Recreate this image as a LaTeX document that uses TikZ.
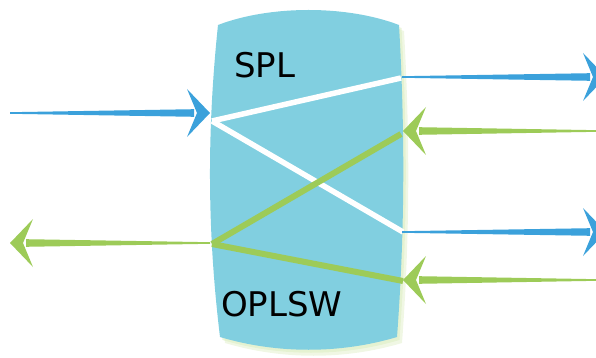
\documentclass[tikz,border=0pt]{standalone}
\usepackage{fontspec}
\setmainfont{DejaVu Sans}
\definecolor{blockfill}{RGB}{129,207,224}
\definecolor{arrblue}{RGB}{59,161,219}
\definecolor{arrgreen}{RGB}{157,203,88}
\definecolor{glow}{RGB}{222,238,196}
\tikzset{
  pics/harrow/.style 2 args={code={
    \fill[#1] (-#2,-0.8) -- (-16,-3.8) -- (-16,3.8) -- (-#2,0.8) -- cycle;
    \fill[#1] (0,0) -- (-23,24) -- (-13,0) -- (-23,-24) -- cycle;
  }},
  whiteline/.style={draw=white,line width=5.5pt,line cap=butt},
  greenline/.style={draw=arrgreen,line width=6pt,line cap=butt},
  lbl/.style={anchor=base west,inner sep=0pt,font=\fontsize{34}{40}\selectfont}
}
\begin{document}
\begin{tikzpicture}[x=1pt,y=-1pt]
\useasboundingbox (0,0) rectangle (596,358);
\clip (0,0) rectangle (596,358);
% soft glow behind block
\begin{scope}[shift={(5,6)}]
\fill[glow,opacity=0.45] (218,25) .. controls (270,5) and (347,5) .. (399,25)
  .. controls (405,130) and (405,230) .. (397,337)
  .. controls (340,354) and (277,354) .. (220,337)
  .. controls (207,230) and (207,130) .. (218,25) -- cycle;
\end{scope}
\begin{scope}[shift={(2.5,3)}]
\fill[glow,opacity=0.6] (218,25) .. controls (270,5) and (347,5) .. (399,25)
  .. controls (405,130) and (405,230) .. (397,337)
  .. controls (340,354) and (277,354) .. (220,337)
  .. controls (207,230) and (207,130) .. (218,25) -- cycle;
\end{scope}
% block
\fill[blockfill] (218,25) .. controls (270,5) and (347,5) .. (399,25)
  .. controls (405,130) and (405,230) .. (397,337)
  .. controls (340,354) and (277,354) .. (220,337)
  .. controls (207,230) and (207,130) .. (218,25) -- cycle;
% ports
\coordinate (inL) at (212,121);
\coordinate (outL) at (212,244);
\coordinate (outR1) at (401,78);
\coordinate (inR1) at (401,134);
\coordinate (outR2) at (403,232);
\coordinate (inR2) at (403,281);
% internal paths
\draw[whiteline] (inL) -- (outR1);
\draw[whiteline] (inL) -- (outR2);
\draw[greenline] (outL) -- (inR1);
\draw[greenline] (outL) -- (inR2);
% labels
\node[lbl] (spl) at (234,78) {SPL};
\node[lbl] (oplsw) at (221,316) {OPLSW};
% arrows
\pic at (210,113) {harrow={arrblue}{200}};
\pic[xscale=-1] at (10,243) {harrow={arrgreen}{200}};
\pic at (606,77) {harrow={arrblue}{204}};
\pic at (606,232) {harrow={arrblue}{204}};
\pic[xscale=-1] at (403,131) {harrow={arrgreen}{195}};
\pic[xscale=-1] at (403,280) {harrow={arrgreen}{195}};
\end{tikzpicture}
\end{document}
